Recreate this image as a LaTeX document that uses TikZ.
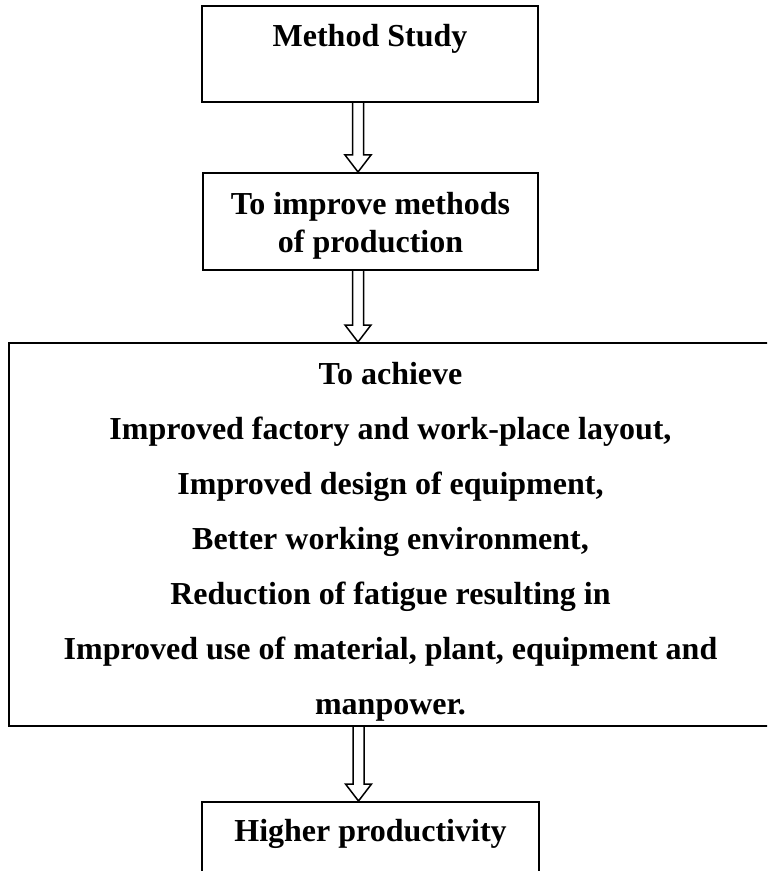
\documentclass[tikz,border=0pt]{standalone}
\usepackage{fontspec}
\setmainfont{Liberation Serif}
\usetikzlibrary{calc}

% hollow block arrow: shaft starts at the x of #1, tip on the y of #2
\newcommand\hollowarrow[2]{%
  \draw[harrow] let \p1=(#1), \p2=(#2) in
    (\x1-2.75pt,\y1) -- (\x1-2.75pt,\y2+8.5pt) -- (\x1-6.5pt,\y2+8.5pt)
    -- (\x1,\y2) -- (\x1+6.5pt,\y2+8.5pt) -- (\x1+2.75pt,\y2+8.5pt)
    -- (\x1+2.75pt,\y1);}

\begin{document}
\begin{tikzpicture}[x=0.5pt,y=-0.5pt,
  box/.style={draw,line width=1pt,inner sep=0pt},
  lbl/.style={anchor=base,inner sep=0pt,font=\fontsize{16pt}{18pt}\selectfont\bfseries},
  harrow/.style={draw,line width=0.75pt,line join=miter}]
  \useasboundingbox (0,0) rectangle (767,871);
  \clip (0,0) rectangle (767,871);

  % boxes
  \node[box,minimum width=168pt,minimum height=48pt] (b1) at (370,54) {};
  \node[box,minimum width=167.5pt,minimum height=48.5pt] (b2) at (370.5,221.5) {};
  \node[box,minimum width=381.5pt,minimum height=191.5pt] (b3) at (390.5,534.5) {};
  \node[box,minimum width=168.5pt,minimum height=49pt] (b4) at (370.5,851) {};

  % texts
  \node[lbl] (m1) at (370,47) {Method Study};
  \node[lbl] (m2a) at (370.5,215) {To improve methods};
  \node[lbl] (m2b) at (370.5,253) {of production};
  \foreach \t [count=\i from 0] in {To achieve,
      Improved factory and work-place layout{,},
      Improved design of equipment{,},
      Better working environment{,},
      Reduction of fatigue resulting in,
      Improved use of material{,} plant{,} equipment and,
      manpower.}
    \node[lbl] (g\i) at (390.5,{384+55*\i}) {\t};
  \node[lbl] (m4) at (370.5,841) {Higher productivity};

  % connectors
  \coordinate (s1) at ($(b1.south)+(-6pt,0)$);
  \coordinate (s2) at ($(b2.south)+(-6.25pt,0)$);
  \coordinate (s3) at ($(b3.south)+(-16pt,0)$);
  \hollowarrow{s1}{b2.north}
  \hollowarrow{s2}{b3.north}
  \hollowarrow{s3}{b4.north}
\end{tikzpicture}
\end{document}
